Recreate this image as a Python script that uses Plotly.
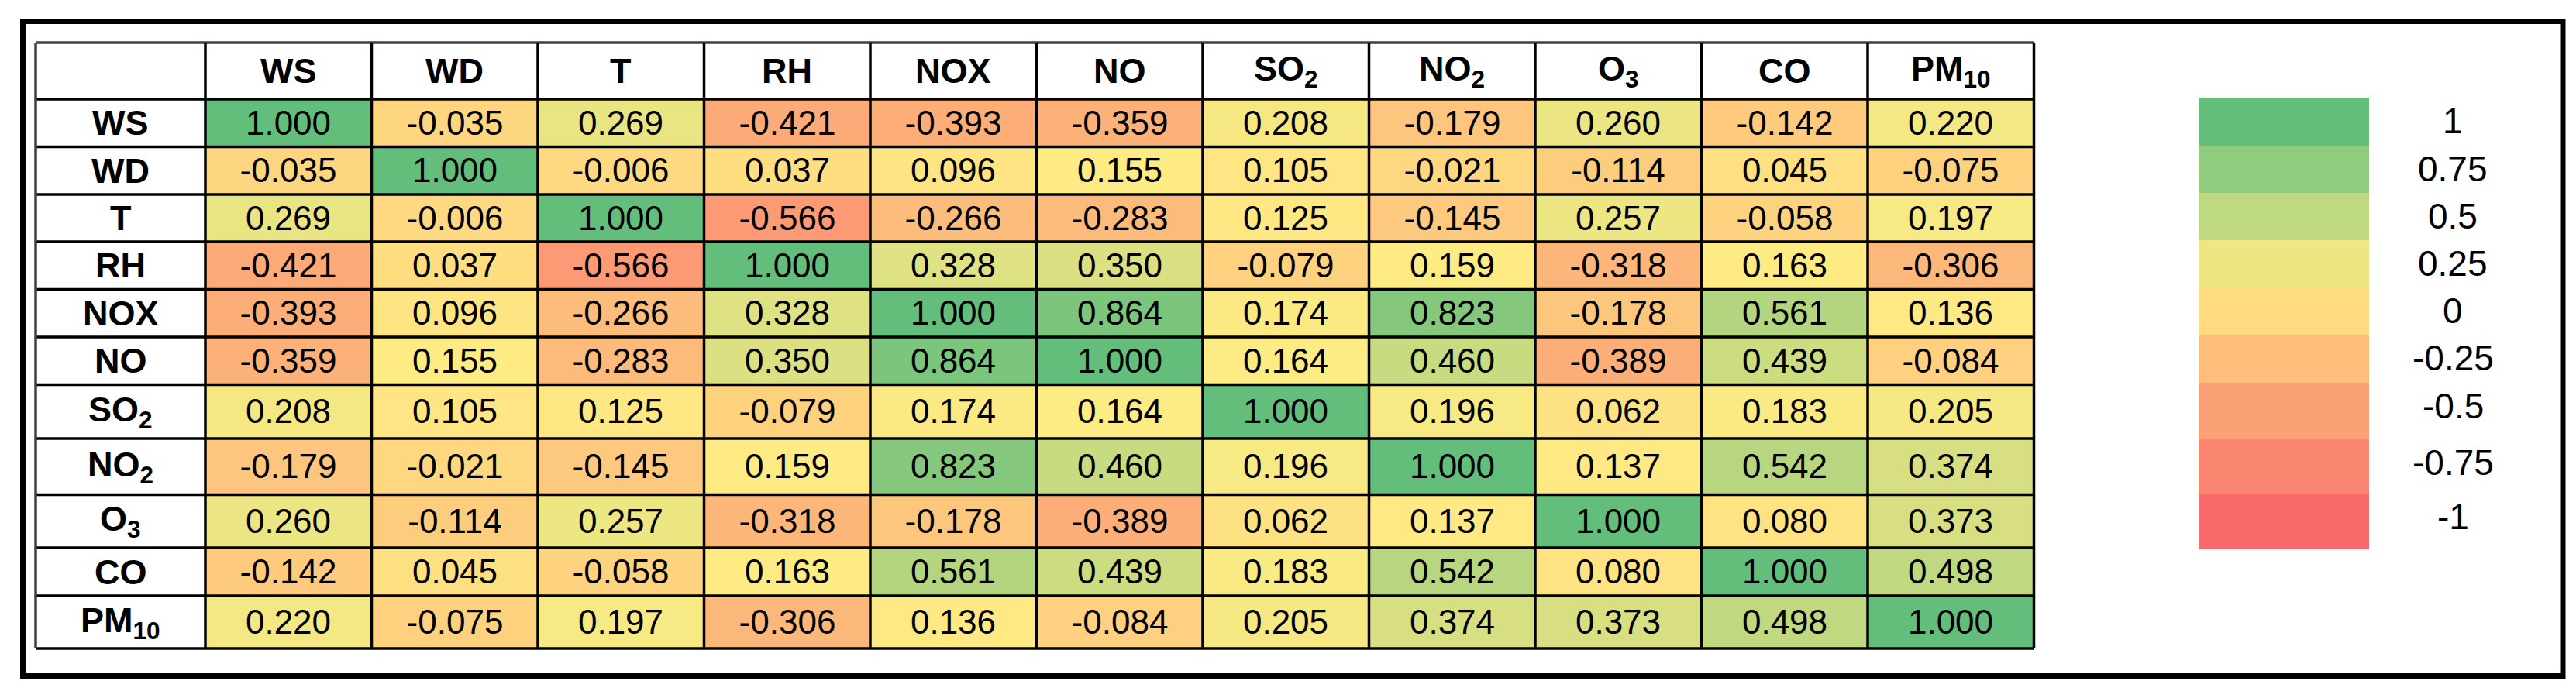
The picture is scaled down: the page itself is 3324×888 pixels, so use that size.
import numpy as np
import plotly.graph_objects as go

# ---------------- data ----------------
variables = ["WS", "WD", "T", "RH", "NOX", "NO", "SO2", "NO2", "O3", "CO", "PM10"]
labels = ["WS", "WD", "T", "RH", "NOX", "NO", "SO<sub>2</sub>", "NO<sub>2</sub>",
          "O<sub>3</sub>", "CO", "PM<sub>10</sub>"]

r_WS   = [1.000, -0.035, 0.269, -0.421, -0.393, -0.359, 0.208, -0.179, 0.260, -0.142, 0.220]
r_WD   = [-0.035, 1.000, -0.006, 0.037, 0.096, 0.155, 0.105, -0.021, -0.114, 0.045, -0.075]
r_T    = [0.269, -0.006, 1.000, -0.566, -0.266, -0.283, 0.125, -0.145, 0.257, -0.058, 0.197]
r_RH   = [-0.421, 0.037, -0.566, 1.000, 0.328, 0.350, -0.079, 0.159, -0.318, 0.163, -0.306]
r_NOX  = [-0.393, 0.096, -0.266, 0.328, 1.000, 0.864, 0.174, 0.823, -0.178, 0.561, 0.136]
r_NO   = [-0.359, 0.155, -0.283, 0.350, 0.864, 1.000, 0.164, 0.460, -0.389, 0.439, -0.084]
r_SO2  = [0.208, 0.105, 0.125, -0.079, 0.174, 0.164, 1.000, 0.196, 0.062, 0.183, 0.205]
r_NO2  = [-0.179, -0.021, -0.145, 0.159, 0.823, 0.460, 0.196, 1.000, 0.137, 0.542, 0.374]
r_O3   = [0.260, -0.114, 0.257, -0.318, -0.178, -0.389, 0.062, 0.137, 1.000, 0.080, 0.373]
r_CO   = [-0.142, 0.045, -0.058, 0.163, 0.561, 0.439, 0.183, 0.542, 0.080, 1.000, 0.498]
r_PM10 = [0.220, -0.075, 0.197, -0.306, 0.136, -0.084, 0.205, 0.374, 0.373, 0.498, 1.000]

legend_values = [1, 0.75, 0.5, 0.25, 0, -0.25, -0.5, -0.75, -1]
legend_labels = ["1", "0.75", "0.5", "0.25", "0", "-0.25", "-0.5", "-0.75", "-1"]

# ---------------- layout / style constants ----------------
W, H = 3324, 888
TABLE_LEFT, TABLE_TOP = 38.0, 47.0
LABEL_COL_W, COL_W = 219.0, 214.5
HEADER_H = 73.0
ROW_H = [61.5, 61.5, 61, 61.5, 61.5, 61.5, 69.5, 72.5, 68.5, 62, 68]
LEG_X0, LEG_X1 = 2830, 3049
LEG_TOP = 118
LEG_H = [62, 61, 61, 61, 61, 62, 73, 70, 72]
LEG_LABEL_X = 3157
LEG_LABEL_DY = 30

RED, YELLOW, GREEN = "#F8696B", "#FFEB84", "#63BE7B"
FONT = "Liberation Sans, Arial, sans-serif"

z = np.array([r_WS, r_WD, r_T, r_RH, r_NOX, r_NO, r_SO2, r_NO2, r_O3, r_CO, r_PM10])
text = [[f"{v:.3f}" for v in row] for row in z]

# Excel-like 3-colour scale: -1 red, 50th percentile yellow, 1 green
mid = float(np.percentile(z, 50))
colorscale = [[0.0, RED], [(mid + 1) / 2, YELLOW], [1.0, GREEN]]

x0 = TABLE_LEFT + LABEL_COL_W
x_edges = [x0 + i * COL_W for i in range(len(variables) + 1)]
y_edges = [TABLE_TOP + HEADER_H]
for h in ROW_H:
    y_edges.append(y_edges[-1] + h)

leg_edges = [LEG_TOP]
for h in LEG_H:
    leg_edges.append(leg_edges[-1] + h)

fig = go.Figure()
fig.add_trace(go.Heatmap(
    z=z, x=x_edges, y=y_edges, text=text, texttemplate="%{text}",
    textfont=dict(size=44, family=FONT, color="black"),
    colorscale=colorscale, zmin=-1, zmax=1, showscale=False, hoverinfo="skip",
))
fig.add_trace(go.Heatmap(
    z=[[v] for v in legend_values], x=[LEG_X0, LEG_X1], y=leg_edges,
    colorscale=colorscale, zmin=-1, zmax=1, showscale=False, hoverinfo="skip",
))

shapes = []
table_right = x_edges[-1]
table_bottom = y_edges[-1]
for i, yv in enumerate([TABLE_TOP] + y_edges):
    col = "#404040" if i == 0 else "black"
    shapes.append(dict(type="line", x0=TABLE_LEFT, x1=table_right, y0=yv, y1=yv,
                       line=dict(color=col, width=3.5)))
for i, xv in enumerate([TABLE_LEFT] + x_edges):
    col = "#404040" if i == 0 else "black"
    shapes.append(dict(type="line", x0=xv, x1=xv, y0=TABLE_TOP, y1=table_bottom,
                       line=dict(color=col, width=3.5)))
shapes.append(dict(type="rect", x0=21.5, y0=19.5, x1=3299, y1=864.5,
                   line=dict(color="black", width=7)))

annotations = []
hdr_y = TABLE_TOP + HEADER_H / 2
for i, lab in enumerate(labels):
    annotations.append(dict(x=(x_edges[i] + x_edges[i + 1]) / 2, y=hdr_y,
                            text=f"<b>{lab}</b>", showarrow=False,
                            xanchor="center", yanchor="middle",
                            font=dict(size=45, family=FONT, color="black")))
    annotations.append(dict(x=TABLE_LEFT + LABEL_COL_W / 2,
                            y=(y_edges[i] + y_edges[i + 1]) / 2,
                            text=f"<b>{lab}</b>", showarrow=False,
                            xanchor="center", yanchor="middle",
                            font=dict(size=45, family=FONT, color="black")))
for i, lab in enumerate(legend_labels):
    annotations.append(dict(x=LEG_LABEL_X, y=leg_edges[i] + LEG_LABEL_DY,
                            text=lab, showarrow=False, xanchor="center", yanchor="middle",
                            font=dict(size=46, family=FONT, color="black")))

fig.update_layout(
    width=W, height=H, margin=dict(l=0, r=0, t=0, b=0),
    paper_bgcolor="white", plot_bgcolor="white",
    xaxis=dict(range=[0, W], visible=False, fixedrange=True),
    yaxis=dict(range=[H, 0], visible=False, fixedrange=True),
    shapes=shapes, annotations=annotations, showlegend=False,
)
fig.write_html("out.html")
